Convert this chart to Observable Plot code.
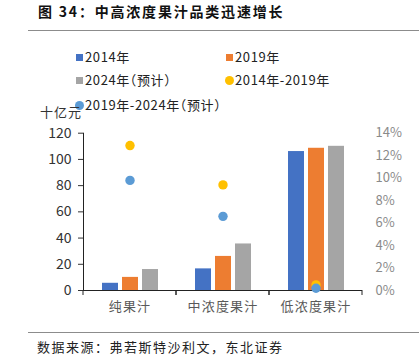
<!DOCTYPE html>
<html><head><meta charset="utf-8">
<script src="https://cdn.jsdelivr.net/npm/d3@7"></script>
<script src="https://cdn.jsdelivr.net/npm/@observablehq/plot@0.6"></script>
<style>
body{margin:0;background:#fff;font-family:"Noto Sans CJK SC","Noto Sans",sans-serif;}
#wrap{position:relative;width:419px;height:363px;overflow:hidden;}
.abs{position:absolute;white-space:nowrap;}
#title{left:38px;top:0px;font-size:14px;font-weight:700;letter-spacing:1.8px;color:#111;line-height:22px;}
.hr{position:absolute;left:28px;width:391px;height:1.3px;background:#8c8c8c;}
.leg{position:absolute;font-size:13px;color:#222;line-height:16px;display:flex;align-items:center;font-feature-settings:"halt";white-space:nowrap;letter-spacing:0.6px;}
.sq{display:inline-block;width:7px;height:7px;margin-right:2px;}
.ci{display:inline-block;width:9px;height:9px;border-radius:50%;margin-right:1px;}
#unit{left:40px;top:105px;font-size:13px;line-height:14px;letter-spacing:1px;color:#333;}
#src{left:37px;top:337px;font-size:13px;letter-spacing:1.5px;color:#222;}
#chart{position:absolute;left:0;top:110px;}
</style></head>
<body><div id="wrap">
<div id="title" class="abs">图 34：中高浓度果汁品类迅速增长</div>
<div class="hr" style="top:29.5px"></div>
<div id="legend"></div>
<div id="unit" class="abs">十亿元</div>
<div id="chart"></div>
<div class="hr" style="top:331.5px"></div>
<div id="src" class="abs">数据来源：弗若斯特沙利文，东北证券</div>
</div>
<script>
const categories = ["纯果汁", "中浓度果汁", "低浓度果汁"];
const barSeries = ["2014年", "2019年", "2024年（预计）"];
const v2014 = [5.5, 16.5, 106];
const v2019 = [10, 26, 108.5];
const v2024 = [16, 35.5, 110];
const dotSeries = ["2014年-2019年", "2019年-2024年（预计）"];
const cagr1419 = [12.9, 9.4, 0.5];
const cagr1924 = [9.8, 6.6, 0.2];
const leftTicks = [0, 20, 40, 60, 80, 100, 120];
const rightTicks = [0, 2, 4, 6, 8, 10, 12, 14];
const barColors = ["#4472C4", "#ED7D31", "#A5A5A5"];
const dotColors = ["#FFC000", "#5B9BD5"];

const k = 120 / 14; // percent → left axis units
const bars = categories.flatMap((c, i) => [v2014, v2019, v2024].map((arr, j) => ({cat: c, series: barSeries[j], value: arr[i]})));
const dots = categories.flatMap((c, i) => [cagr1419, cagr1924].map((arr, j) => ({cat: c, series: dotSeries[j], pct: arr[i]})));

// legend
const legendItems = [
  {label: barSeries[0], color: barColors[0], shape: "sq", left: 76, top: 49},
  {label: barSeries[1], color: barColors[1], shape: "sq", left: 226, top: 49},
  {label: barSeries[2], color: barColors[2], shape: "sq", left: 76, top: 72},
  {label: dotSeries[0], color: dotColors[0], shape: "ci", left: 225, top: 72},
  {label: dotSeries[1], color: dotColors[1], shape: "ci", left: 75, top: 97}
];
const lg = document.getElementById("legend");
for (const it of legendItems) {
  const d = document.createElement("div");
  d.className = "leg";
  d.style.left = it.left + "px"; d.style.top = it.top + "px";
  d.innerHTML = `<span class="${it.shape}" style="background:${it.color}"></span><span>${it.label}</span>`;
  lg.appendChild(d);
}

const boundaryTicks = (index, scales, values, dim) => {
  const g = d3.create("svg:g").attr("stroke", "#222").attr("stroke-width", 1);
  const y0 = dim.height - dim.marginBottom;
  for (const x of [dim.marginLeft, dim.width - dim.marginRight]) {
    g.append("line").attr("x1", x).attr("x2", x).attr("y1", y0).attr("y2", y0 + 5);
  }
  return g.node();
};

const chart = Plot.plot({
  width: 419, height: 210,
  marginLeft: 82, marginRight: 56, marginTop: 22.7, marginBottom: 30,
  style: {fontFamily: '"Noto Sans CJK SC","Noto Sans",sans-serif', background: "transparent", overflow: "visible"},
  fx: {domain: categories, padding: 0, label: null},
  x: {domain: barSeries, paddingInner: 0.21, paddingOuter: 0.857, axis: null},
  y: {domain: [0, 120], axis: null},
  color: {domain: [...barSeries, ...dotSeries], range: [...barColors, ...dotColors]},
  marks: [
    Plot.barY(bars, {fx: "cat", x: "series", y: "value", fill: "series"}),
    Plot.ruleY([0], {stroke: "#222", strokeWidth: 1}),
    boundaryTicks,
    Plot.frame({anchor: "left", facetAnchor: "left", stroke: "#222"}),
    Plot.axisY(leftTicks, {anchor: "left", tickSize: 5, tickPadding: 7, fontSize: 14, color: "#333", label: null}),
    Plot.axisY(rightTicks.map(d => d * k), {anchor: "right", tickSize: 0, tickPadding: 13, fontSize: 13, color: "#8a8a8a", tickFormat: d => Math.round(d / k) + "%", label: null}),
    Plot.axisFx({anchor: "bottom", tickSize: 0, tickPadding: 11, fontSize: 13, color: "#595959", label: null}),
    Plot.dot(dots, {fx: "cat", y: d => d.pct * k, fill: "series", r: 4.7})
  ]
});
d3.select(chart).selectAll('g[aria-label="fx-axis tick label"] text').style("letter-spacing", "1.2px");
document.getElementById("chart").appendChild(chart);
</script>
</body></html>
